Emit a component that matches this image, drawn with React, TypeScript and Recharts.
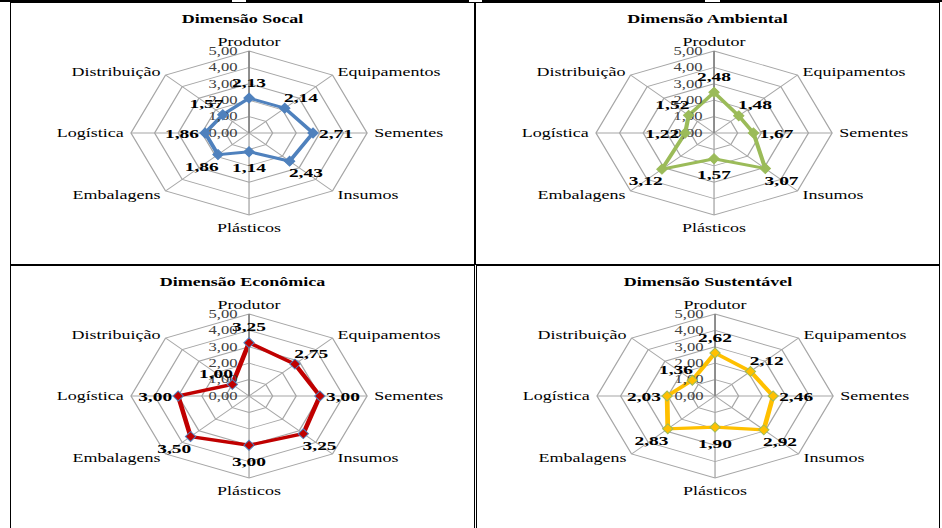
import React from "react";
import { RadarChart, Radar, PolarGrid, PolarAngleAxis, PolarRadiusAxis } from "recharts";

// Axis categories, clockwise from the top
const categories = [
  "Produtor",
  "Equipamentos",
  "Sementes",
  "Insumos",
  "Plásticos",
  "Embalagens",
  "Logística",
  "Distribuição",
];

const socialValues = [2.13, 2.14, 2.71, 2.43, 1.14, 1.86, 1.86, 1.57];
const ambientalValues = [2.48, 1.48, 1.67, 3.07, 1.57, 3.12, 1.22, 1.52];
const economicaValues = [3.25, 2.75, 3.0, 3.25, 3.0, 3.5, 3.0, 1.0];
const sustentavelValues = [2.62, 2.12, 2.46, 2.92, 1.9, 2.83, 2.03, 1.36];

const radiusDomain: [number, number] = [0, 5];
const radiusTickCount = 6;

const SERIF = '"Liberation Serif", "Times New Roman", serif';
// the whole figure is stretched horizontally
const STRETCH = 1.44;
const CX = 166;
const CY = 131;
const OUTER = 82;
const LABEL_GAP = 16;

const fmt = (v: number) => v.toFixed(2).replace(".", ",");

const panels = [
  { title: "Dimensão Socal", values: socialValues, line: "#4F81BD", fill: "#4F81BD", edge: "#4F81BD", width: 2.9, left: 10, top: 2, w: 465, h: 263 },
  { title: "Dimensão Ambiental", values: ambientalValues, line: "#9BBB59", fill: "#9BBB59", edge: "#9BBB59", width: 2.9, left: 475, top: 2, w: 465, h: 263 },
  { title: "Dimensão Econômica", values: economicaValues, line: "#C00000", fill: "#C00000", edge: "#4F81BD", width: 3.3, left: 10, top: 265, w: 465, h: 270 },
  { title: "Dimensão Sustentável", values: sustentavelValues, line: "#FFC000", fill: "#FFC000", edge: "#9BBB59", width: 3.3, left: 476, top: 265, w: 464, h: 270 },
];

function AngleTick(props: any) {
  const { x, y, payload, textAnchor } = props;
  const s = Math.sin((payload.coordinate * Math.PI) / 180);
  const dy = s > 0.9 ? 0 : s < -0.9 ? "0.95em" : "0.35em";
  return (
    <text x={x} y={y} dy={dy} textAnchor={textAnchor} fontSize={12.5} fill="#000" fontFamily={SERIF}>
      {payload.value}
    </text>
  );
}

function RadiusTick(props: any) {
  const { x, y, payload } = props;
  return (
    <text x={x - 8} y={y} dy="0.33em" textAnchor="end" fontSize={11.5} fill="#404040" fontFamily={SERIF}>
      {fmt(payload.value)}
    </text>
  );
}

// diamond marker plus its value, pushed outward along the spoke
const makeMarker = (fill: string, edge: string) => (props: any) => {
  const { cx, cy, index, payload } = props;
  const a = ((90 - (index * 360) / categories.length) * Math.PI) / 180;
  const lx = cx + LABEL_GAP * Math.cos(a);
  const ly = cy - LABEL_GAP * Math.sin(a);
  const hw = 3.6;
  const hh = 5;
  return (
    <g key={`m-${index}`}>
      <path
        d={`M${cx},${cy - hh} L${cx + hw},${cy} L${cx},${cy + hh} L${cx - hw},${cy} Z`}
        fill={fill}
        stroke={edge}
        strokeWidth={0.8}
      />
      <text x={lx} y={ly} dy="0.35em" textAnchor="middle" fontSize={13.5} fontWeight="bold" fill="#000" fontFamily={SERIF}>
        {fmt(payload.value)}
      </text>
    </g>
  );
};

function Panel({ p }: { p: (typeof panels)[number] }) {
  const data = categories.map((name, i) => ({ name, value: p.values[i] }));
  const innerW = p.w / STRETCH;
  return (
    <div style={{ position: "absolute", left: p.left, top: p.top, width: p.w, height: p.h, overflow: "hidden" }}>
      <div
        style={{
          position: "absolute",
          left: 0,
          top: 0,
          width: innerW,
          height: p.h,
          transform: `scaleX(${STRETCH})`,
          transformOrigin: "0 0",
        }}
      >
        <div
          style={{
            position: "absolute",
            left: 0,
            top: 9,
            width: innerW,
            textAlign: "center",
            fontFamily: SERIF,
            fontWeight: "bold",
            fontSize: 12.5,
            lineHeight: "16px",
            color: "#000",
          }}
        >
          {p.title}
        </div>
        <RadarChart width={innerW} height={p.h} data={data} cx={CX} cy={CY} outerRadius={OUTER}>
          <PolarGrid gridType="polygon" stroke="#A6A6A6" strokeWidth={0.9} />
          <PolarAngleAxis dataKey="name" tick={AngleTick} tickLine={false} axisLine={false} tickSize={5} />
          <PolarRadiusAxis
            angle={90}
            domain={radiusDomain}
            tickCount={radiusTickCount}
            tick={RadiusTick}
            tickLine={false}
            axisLine={{ stroke: "#868686", strokeWidth: 1.2 }}
          />
          <Radar
            dataKey="value"
            stroke={p.line}
            strokeWidth={p.width}
            fill="none"
            fillOpacity={0}
            dot={makeMarker(p.fill, p.edge)}
            isAnimationActive={false}
          />
        </RadarChart>
      </div>
      <div style={{ position: "absolute", inset: 0, border: "1.5px solid #000", boxSizing: "border-box", pointerEvents: "none" }} />
    </div>
  );
}

// edge of the table that sits above the figure
const topSegments: [number, number][] = [
  [0, 232],
  [246, 469],
  [482, 705],
  [720, 942],
];

export default function App() {
  return (
    <div style={{ position: "absolute", left: 0, top: 0, width: 942, height: 528, background: "#fff", overflow: "hidden" }}>
      {topSegments.map(([a, b]) => (
        <div key={a} style={{ position: "absolute", left: a, top: 0, width: b - a, height: 2, background: "#000" }} />
      ))}
      {panels.map((p) => (
        <Panel key={p.title} p={p} />
      ))}
    </div>
  );
}
